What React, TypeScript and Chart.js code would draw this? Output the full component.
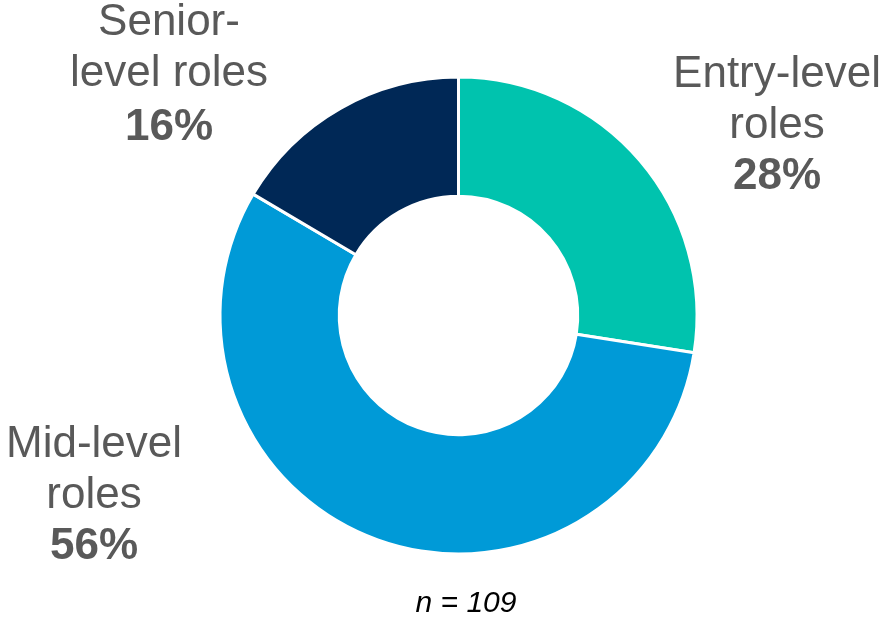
import React, { useEffect, useRef } from "react";
import { Chart, registerables } from "chart.js";

Chart.register(...registerables);

const categories = ["Entry-level roles", "Mid-level roles", "Senior-level roles"];
const values = [27.5, 56, 16.5];
const percentLabels = ["28%", "56%", "16%"];
const colors = ["#00C3AE", "#009AD7", "#002856"];
const sampleNote = "n = 109";

const labelFont = "'Liberation Sans', Arial, Helvetica, sans-serif";

export default function App() {
  const ref = useRef<HTMLCanvasElement>(null);

  useEffect(() => {
    if (!ref.current) return;
    const cx = 458.5;
    const cy = 315.5;
    const half = 240;
    const chart = new Chart(ref.current, {
      type: "doughnut",
      data: {
        labels: categories,
        datasets: [
          {
            data: values,
            backgroundColor: colors,
            borderColor: "#ffffff",
            borderWidth: 3,
            hoverOffset: 0,
          },
        ],
      },
      options: {
        responsive: false,
        animation: false,
        cutout: "50%",
        layout: {
          padding: {
            left: cx - half,
            right: 885 - cx - half,
            top: cy - half,
            bottom: 618 - cy - half,
          },
        },
        plugins: {
          legend: { display: false },
          tooltip: { enabled: false },
        },
      },
    });
    return () => chart.destroy();
  }, []);

  const textStyle: React.CSSProperties = {
    position: "absolute",
    fontFamily: labelFont,
    fontSize: 44,
    lineHeight: "51px",
    color: "#595959",
    textAlign: "center",
    whiteSpace: "nowrap",
    transform: "translateX(-50%)",
  };

  return (
    <div style={{ position: "fixed", left: 0, top: 0, width: 885, height: 618, background: "#fff" }}>
      <canvas ref={ref} width={885} height={618} style={{ position: "absolute", left: 0, top: 0 }} />
      <div style={{ ...textStyle, left: 169, top: -6 }}>
        <div>Senior-</div>
        <div>level roles</div>
        <div style={{ fontWeight: 700, marginTop: 3 }}>{percentLabels[2]}</div>
      </div>
      <div style={{ ...textStyle, left: 777, top: 46 }}>
        <div>Entry-level</div>
        <div>roles</div>
        <div style={{ fontWeight: 700 }}>{percentLabels[0]}</div>
      </div>
      <div style={{ ...textStyle, left: 94, top: 416 }}>
        <div>Mid-level</div>
        <div>roles</div>
        <div style={{ fontWeight: 700 }}>{percentLabels[1]}</div>
      </div>
      <div
        style={{
          position: "absolute",
          left: 466,
          top: 585,
          transform: "translateX(-50%)",
          fontFamily: labelFont,
          fontStyle: "italic",
          fontSize: 30,
          lineHeight: "34px",
          color: "#000",
          whiteSpace: "nowrap",
        }}
      >
        {sampleNote}
      </div>
    </div>
  );
}
